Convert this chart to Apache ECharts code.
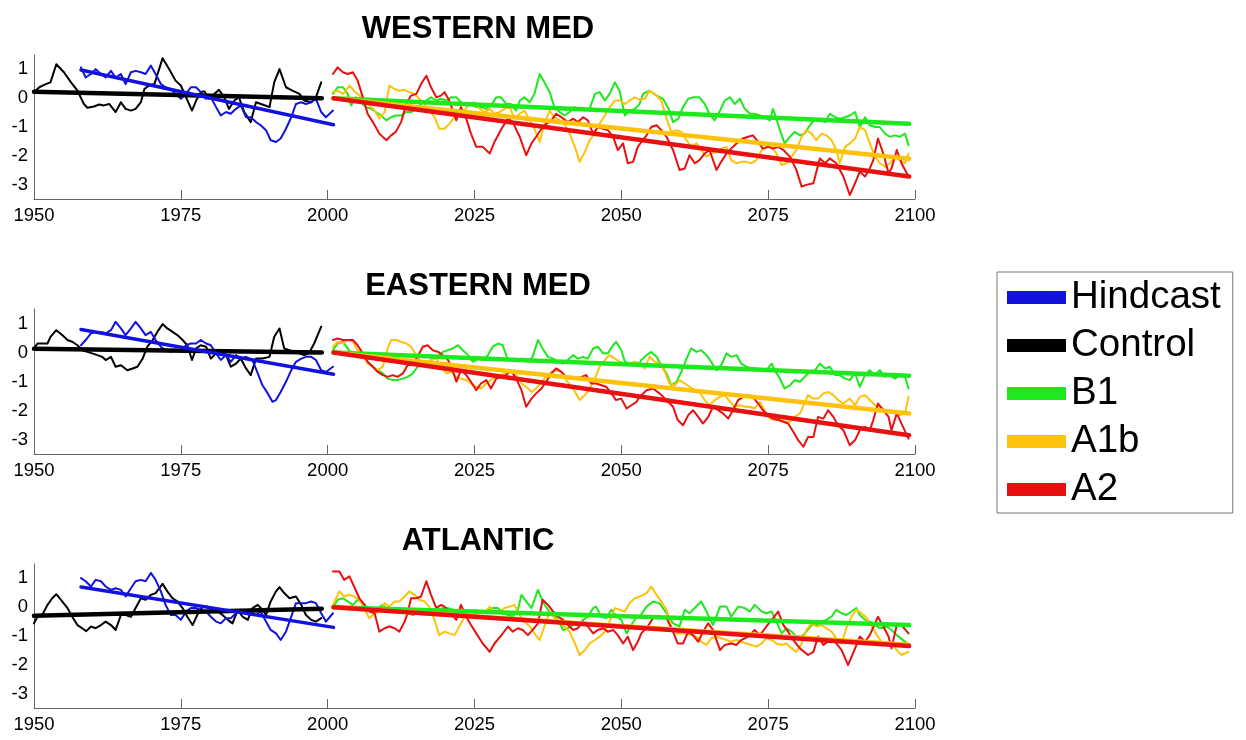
<!DOCTYPE html>
<html>
<head>
<meta charset="utf-8">
<script src="https://cdn.jsdelivr.net/npm/echarts@6/dist/echarts.min.js"></script>
<style>
html,body{margin:0;padding:0;background:#fff;}
#chart{width:1246px;height:740px;}
</style>
</head>
<body>
<div id="chart"></div>
<script>
// ---------- DATA ----------
const panelTitles = ['WESTERN MED', 'EASTERN MED', 'ATLANTIC'];
const seriesNames = ['Hindcast', 'Control', 'B1', 'A1b', 'A2'];
const xTicks = [1950, 1975, 2000, 2025, 2050, 2075, 2100];
const yTickLabels = [1, 0, -1, -2, -3];

// WESTERN MED
const wmControl = [[1950,0.21],[1950.9,0.38],[1952,0.49],[1952.8,0.55],[1953.8,1.18],[1955.1,0.9],[1956.3,0.55],[1957.4,0.26],[1958.5,-0.2],[1959.1,-0.33],[1960.2,-0.29],[1961.1,-0.22],[1961.9,-0.25],[1962.8,-0.2],[1963.9,-0.48],[1964.8,-0.14],[1965.6,-0.37],[1966.5,-0.43],[1967.3,-0.37],[1968.2,-0.14],[1968.8,0.32],[1969.6,0.44],[1970.5,0.49],[1971.9,1.39],[1973,1.01],[1974.1,0.61],[1975,0.44],[1975.9,0.03],[1976.9,-0.43],[1977.6,-0.08],[1978.4,0.21],[1979,0.24],[1979.8,-0.02],[1980.7,0.15],[1981.5,0.29],[1982.4,0.03],[1983.2,-0.37],[1984.1,-0.08],[1984.9,0.03],[1985.8,-0.48],[1986.9,-0.83],[1987.8,-0.14],[1988.9,-0.22],[1990.1,-0.31],[1990.9,0.55],[1991.8,1.01],[1992.9,0.38],[1994,0.26],[1995.2,0.15],[1996,-0.08],[1997.2,-0.14],[1998,0.03],[1998.9,0.55]];
const wmHindcast = [[1958,1.07],[1958.8,0.72],[1959.7,0.84],[1960.5,1.01],[1961.4,0.84],[1962.2,0.72],[1963.1,0.95],[1963.9,0.72],[1964.8,0.84],[1965.6,0.49],[1966.5,0.9],[1967.3,0.95],[1968.2,0.9],[1969,0.84],[1969.9,1.13],[1970.7,0.84],[1971.6,0.49],[1972.4,0.38],[1973.3,0.32],[1974.1,0.15],[1975,-0.02],[1975.9,0.15],[1976.7,0.38],[1977.6,0.38],[1978.4,0.21],[1979.3,-0.02],[1980.1,0.03],[1981,-0.31],[1981.8,-0.6],[1982.7,-0.48],[1983.5,-0.54],[1984.4,-0.37],[1985.2,-0.25],[1986.1,-0.66],[1986.9,-0.66],[1987.8,-0.83],[1988.6,-0.94],[1989.5,-1.11],[1990.3,-1.46],[1991.2,-1.52],[1992,-1.4],[1992.9,-1.06],[1993.8,-0.66],[1994.6,-0.2],[1995.5,-0.14],[1996.3,-0.2],[1997.2,-0.14],[1998,-0.02],[1998.9,-0.48],[1999.7,-0.66],[2000.9,-0.43]];
const wmB1 = [[2000.9,0.15],[2001.7,0.38],[2002.6,0.38],[2003.4,0.15],[2004,-0.25],[2004.8,0.03],[2005.7,-0.14],[2006.5,-0.31],[2007.4,-0.37],[2008.2,-0.48],[2009.1,-0.6],[2010,-0.77],[2010.8,-0.66],[2011.6,-0.6],[2012.5,-0.6],[2013.4,-0.48],[2014.2,-0.48],[2015.1,-0.37],[2015.9,-0.2],[2016.8,-0.08],[2017.6,0.03],[2018.5,-0.08],[2019.3,-0.02],[2020.2,-0.08],[2021,0.03],[2021.9,0.03],[2022.7,-0.14],[2023.6,-0.25],[2024.4,-0.2],[2025.3,-0.31],[2026.1,-0.31],[2027,-0.37],[2027.8,-0.25],[2028.7,0.03],[2029.5,0.03],[2030.4,-0.2],[2031.2,-0.2],[2032.1,-0.43],[2032.7,-0.08],[2033.5,0.03],[2034.4,-0.14],[2035.2,0.15],[2036.1,0.84],[2036.9,0.55],[2037.8,0.21],[2038.6,-0.31],[2039.5,-0.48],[2040.3,-0.6],[2041.2,-0.48],[2042,-0.31],[2042.9,-0.37],[2043.7,-0.43],[2044.6,-0.37],[2045.5,0.15],[2046.3,0.21],[2047.2,-0.08],[2048,0.15],[2048.9,0.55],[2049.7,0.26],[2050.6,-0.6],[2051.4,-0.43],[2052.3,-0.37],[2053.1,-0.2],[2053.7,0.15],[2054.8,0.26],[2056,0.09],[2057.1,-0.02],[2058.2,-0.43],[2058.8,-0.83],[2059.7,-0.71],[2060.5,-0.31],[2061.4,-0.02],[2062.2,0.03],[2063.3,0.03],[2064.2,-0.2],[2065,-0.54],[2065.9,-0.77],[2066.8,-0.43],[2067.6,-0.08],[2068.5,0.03],[2069.3,-0.2],[2070.2,-0.02],[2071,-0.37],[2071.9,-0.54],[2072.7,-0.54],[2073.6,-0.6],[2074.4,-0.66],[2075.3,-0.77],[2075.8,-0.37],[2076.4,-0.71],[2077,-1.11],[2077.8,-1.57],[2078.7,-1.34],[2079.5,-1.17],[2080.4,-1.29],[2081.2,-1.23],[2082.1,-0.94],[2083,-0.71],[2083.8,-0.77],[2084.7,-0.83],[2085.5,-0.54],[2086.4,-0.66],[2087.2,-0.71],[2088.1,-0.66],[2088.9,-0.6],[2089.8,-0.48],[2090.6,-1.0],[2091.5,-0.66],[2092.3,-0.94],[2093.2,-1.0],[2094,-1.0],[2094.9,-1.23],[2095.7,-1.34],[2096.6,-1.29],[2097.4,-1.34],[2098.3,-1.23],[2098.9,-1.63]];
const wmA1b = [[2000.9,0.21],[2001.7,0.26],[2002.6,0.15],[2003.7,0.44],[2004.5,0.26],[2005.4,0.09],[2006.3,-0.08],[2007.1,-0.25],[2008,-0.43],[2008.8,-0.71],[2009.7,-0.48],[2010.5,0.44],[2011.4,0.32],[2012.2,0.26],[2013.1,0.29],[2013.9,0.21],[2014.8,0.15],[2015.6,-0.02],[2016.5,-0.2],[2017.3,-0.43],[2018.2,-0.66],[2019,-1.06],[2019.9,-1.06],[2020.7,-0.89],[2021.6,-0.66],[2022.4,-0.48],[2023.3,-0.43],[2024.1,-0.2],[2025,-0.14],[2025.9,-0.37],[2026.7,-0.48],[2027.6,-0.37],[2028.4,-0.54],[2029.3,-0.48],[2030.1,-0.37],[2031,-0.31],[2031.8,-0.71],[2032.7,-0.54],[2033.5,-0.43],[2034.4,-0.77],[2035.2,-1.06],[2036.1,-1.52],[2036.9,-0.89],[2037.8,-0.43],[2038.6,-0.66],[2039.5,-0.77],[2040.3,-0.89],[2041.2,-1.23],[2042.1,-1.69],[2042.9,-2.21],[2043.8,-1.86],[2044.6,-1.46],[2045.5,-1.23],[2046.3,-0.89],[2047.2,-0.6],[2048,-0.31],[2048.9,-0.08],[2049.7,-0.08],[2050.6,-0.2],[2051.4,-0.08],[2052.3,0.03],[2053.1,-0.05],[2054,-0.02],[2054.8,0.26],[2056,0.09],[2056.8,-0.08],[2057.7,-0.71],[2058.5,-1.17],[2059.4,-1.11],[2060.2,-1.17],[2061.1,-1.46],[2061.9,-1.69],[2062.8,-1.57],[2063.6,-1.8],[2064.5,-2.03],[2065.3,-1.92],[2066.2,-1.86],[2067,-1.75],[2067.9,-1.69],[2068.7,-2.15],[2069.6,-2.26],[2070.4,-2.21],[2071.3,-2.21],[2072.1,-2.26],[2073,-2.15],[2073.9,-1.8],[2074.7,-1.69],[2075.6,-1.69],[2076.4,-1.92],[2077.3,-2.32],[2078.1,-2.26],[2079,-2.03],[2079.8,-1.8],[2080.7,-1.34],[2081.5,-1.11],[2082.4,-1.23],[2083.2,-1.46],[2084.1,-1.23],[2084.9,-1.29],[2085.8,-1.46],[2086.6,-1.8],[2087.2,-2.26],[2088.1,-1.69],[2088.9,-1.57],[2089.8,-1.4],[2090.6,-1.0],[2091.5,-1.11],[2092.3,-1.57],[2093.2,-2.03],[2094,-2.26],[2094.9,-2.38],[2095.7,-2.26],[2096.6,-2.03],[2097.4,-2.15],[2098.3,-2.26],[2098.9,-1.92]];
const wmA2 = [[2000.9,0.84],[2001.7,1.07],[2002.6,0.9],[2003.4,0.84],[2004.3,0.9],[2005.1,0.61],[2006,0.03],[2006.8,-0.54],[2007.7,-0.83],[2008.8,-1.23],[2010,-1.46],[2010.8,-1.29],[2011.6,-1.17],[2012.5,-0.83],[2013.4,-0.2],[2014.2,0.09],[2015.1,0.15],[2015.9,0.49],[2016.8,0.78],[2017.6,0.38],[2018.5,0.03],[2019.3,0.09],[2019.9,0.21],[2020.7,-0.08],[2021.9,-0.77],[2022.7,-0.31],[2023.6,-0.71],[2024.4,-1.23],[2025.3,-1.69],[2026.4,-1.69],[2027.6,-1.92],[2028.4,-1.52],[2029.6,-1.06],[2030.7,-0.71],[2031.5,-0.83],[2032.7,-1.34],[2033.8,-1.98],[2034.7,-1.57],[2035.5,-1.34],[2036.4,-1.06],[2037.2,-0.89],[2038.1,-0.77],[2038.9,-0.54],[2039.8,-0.66],[2040.9,-0.83],[2041.8,-0.71],[2042.6,-0.83],[2043.5,-0.66],[2044.3,-0.77],[2045.2,-1.23],[2046,-1.0],[2046.9,-1.06],[2047.7,-1.11],[2048.6,-1.34],[2049.4,-1.8],[2050.3,-1.57],[2051.1,-2.26],[2052,-2.21],[2052.8,-1.69],[2053.4,-1.52],[2054.3,-1.29],[2055.1,-1.0],[2056,-0.94],[2056.8,-1.11],[2057.7,-1.34],[2058.8,-1.8],[2059.9,-2.49],[2060.8,-2.44],[2061.6,-1.98],[2062.5,-2.26],[2063.3,-2.15],[2064.2,-1.92],[2065,-1.8],[2066.2,-2.49],[2067,-2.21],[2067.9,-1.92],[2068.7,-1.75],[2069.6,-1.57],[2070.7,-1.4],[2071.6,-1.34],[2072.4,-1.29],[2073.3,-1.52],[2074.1,-1.75],[2075,-1.69],[2075.8,-1.75],[2076.7,-1.69],[2077.6,-1.8],[2078.7,-2.03],[2079.8,-2.49],[2080.7,-3.07],[2081.5,-3.01],[2082.7,-2.95],[2083.8,-2.09],[2084.7,-2.26],[2085.5,-2.09],[2086.6,-2.26],[2087.8,-2.72],[2088.9,-3.36],[2089.8,-2.95],[2090.6,-2.55],[2091.5,-2.72],[2092.3,-2.44],[2092.9,-2.15],[2093.7,-1.4],[2094.6,-1.92],[2095.5,-2.61],[2096,-2.44],[2096.9,-1.8],[2097.7,-2.26],[2098.9,-2.72]];
const wmTrendControl = [[1950,0.22],[1999,0.0]];
const wmTrendHindcast = [[1958,0.98],[2001,-0.92]];
const wmTrendB1 = [[2001,0.0],[2099,-0.89]];
const wmTrendA1b = [[2001,0.0],[2099,-2.1]];
const wmTrendA2 = [[2001,0.0],[2099,-2.72]];

// EASTERN MED
const emControl = [[1950,0.14],[1950.6,0.31],[1951.4,0.31],[1952.3,0.31],[1952.8,0.54],[1953.8,0.77],[1954.8,0.6],[1955.7,0.43],[1956.5,0.37],[1957.4,0.25],[1958.2,0.08],[1959.1,0.02],[1959.9,-0.03],[1960.8,-0.09],[1961.6,-0.15],[1962.2,-0.26],[1963.1,-0.15],[1963.9,-0.49],[1964.8,-0.44],[1965.9,-0.61],[1966.8,-0.55],[1967.6,-0.49],[1968.5,-0.21],[1969.3,0.2],[1970.2,0.43],[1971,0.71],[1971.9,0.98],[1972.7,0.83],[1973.6,0.71],[1974.4,0.6],[1975.3,0.43],[1976.1,0.25],[1976.9,-0.26],[1977.6,0.14],[1978.4,0.25],[1979.3,0.2],[1980.1,-0.21],[1981,-0.03],[1981.8,0.02],[1982.7,-0.09],[1983.5,-0.49],[1984.4,-0.38],[1985.2,-0.21],[1986.1,-0.55],[1986.9,-0.78],[1987.8,-0.21],[1988.9,-0.21],[1990.1,-0.15],[1990.9,0.54],[1991.8,0.83],[1992.6,0.14],[1993.5,0.08],[1994.3,0.02],[1995.1,-0.03],[1996,-0.09],[1996.8,-0.03],[1997.7,0.31],[1998.9,0.89]];
const emHindcast = [[1958,0.25],[1958.8,0.43],[1959.7,0.66],[1960.5,0.71],[1961.4,0.71],[1962.2,0.66],[1963.1,0.77],[1963.9,1.06],[1964.8,0.83],[1965.6,0.6],[1966.5,0.83],[1967.3,1.06],[1968.2,0.83],[1969,0.6],[1969.9,0.71],[1970.7,0.43],[1971.6,0.2],[1972.4,0.08],[1973.3,0.02],[1974.1,0.08],[1975,0.08],[1975.9,0.25],[1976.7,0.31],[1977.6,0.31],[1978.4,0.43],[1979.3,0.31],[1980.1,0.25],[1981,-0.03],[1981.8,-0.26],[1982.7,-0.09],[1983.5,-0.32],[1984.4,-0.09],[1985.2,-0.21],[1986.1,-0.15],[1987.2,-0.26],[1988.1,-0.72],[1988.9,-1.13],[1989.8,-1.41],[1990.6,-1.7],[1991.2,-1.64],[1992,-1.36],[1992.9,-1.01],[1993.8,-0.61],[1994.6,-0.32],[1995.5,-0.21],[1996.3,-0.15],[1997.2,-0.15],[1998,-0.26],[1998.9,-0.61],[1999.7,-0.67],[2000.9,-0.49]];
const emB1 = [[2000.9,0.08],[2001.7,0.31],[2002.6,0.37],[2003.4,0.14],[2004.3,-0.09],[2005.1,-0.09],[2006,-0.15],[2006.8,-0.32],[2007.7,-0.49],[2008.5,-0.61],[2009.4,-0.72],[2010.2,-0.9],[2011.1,-0.95],[2011.9,-0.95],[2012.8,-0.9],[2013.6,-0.84],[2014.5,-0.72],[2015.3,-0.49],[2016.2,-0.44],[2017,-0.32],[2017.9,-0.21],[2018.8,-0.15],[2019.6,0.02],[2020.5,0.08],[2021.3,0.14],[2022.2,0.25],[2023,0.08],[2023.9,-0.09],[2024.7,-0.32],[2025.6,-0.21],[2026.4,-0.26],[2027.3,-0.09],[2028.1,0.2],[2029,0.31],[2029.8,0.25],[2030.7,-0.26],[2031.5,-0.21],[2032.4,-0.26],[2033.2,-0.21],[2034.1,-0.32],[2034.9,-0.15],[2035.8,0.43],[2036.6,0.14],[2037.5,-0.15],[2038.4,-0.21],[2039.2,-0.32],[2040.1,-0.38],[2040.9,-0.26],[2041.8,-0.09],[2042.6,-0.21],[2043.5,-0.15],[2044.3,-0.21],[2045.2,0.14],[2046,0.2],[2046.9,-0.03],[2047.7,-0.03],[2048.6,0.25],[2049.1,0.37],[2050,0.08],[2050.6,-0.32],[2051.4,-0.38],[2052.3,-0.44],[2053.1,-0.38],[2053.4,-0.26],[2054.3,-0.09],[2055.1,0.02],[2056,-0.15],[2056.8,-0.44],[2057.7,-0.72],[2058.5,-1.13],[2059.4,-1.01],[2060.2,-0.67],[2061.1,-0.21],[2061.9,0.14],[2062.8,0.02],[2063.6,0.08],[2064.5,-0.09],[2065.3,-0.32],[2066.2,-0.61],[2067,-0.44],[2067.9,-0.03],[2068.7,-0.15],[2069.6,-0.09],[2070.4,-0.38],[2071.3,-0.49],[2072.1,-0.55],[2073,-0.55],[2073.9,-0.61],[2074.7,-0.61],[2075.6,-0.38],[2076.1,-0.61],[2077,-0.9],[2077.8,-1.24],[2078.7,-1.13],[2079.5,-0.95],[2080.4,-1.01],[2081.2,-0.84],[2082.1,-0.67],[2083,-0.61],[2083.8,-0.38],[2084.7,-0.55],[2085.5,-0.49],[2086.4,-0.78],[2087.2,-0.78],[2088.1,-0.9],[2088.9,-0.95],[2089.8,-0.72],[2090.6,-1.18],[2091.5,-0.78],[2092.3,-0.61],[2093.2,-0.78],[2094,-0.61],[2094.9,-0.84],[2095.7,-0.78],[2096.6,-0.9],[2097.4,-0.78],[2098.3,-0.84],[2098.9,-1.24]];
const emA1b = [[2000.9,0.2],[2001.7,0.37],[2002.6,0.31],[2003.4,0.43],[2004.3,0.37],[2005.1,0.08],[2006,-0.03],[2006.8,-0.38],[2007.7,-0.49],[2008.5,-0.61],[2009.4,-0.49],[2010.2,0.14],[2010.8,0.43],[2011.6,0.43],[2012.5,0.37],[2013.4,0.31],[2014.2,0.2],[2015.1,-0.09],[2015.9,-0.32],[2016.8,-0.38],[2017.6,-0.26],[2018.5,-0.21],[2019.3,-0.49],[2020.2,-0.72],[2021,-0.67],[2021.9,-0.84],[2022.7,-0.9],[2023.6,-0.95],[2024.4,-1.07],[2025.3,-1.18],[2026.1,-1.24],[2027,-1.07],[2027.8,-0.95],[2028.7,-0.84],[2029.5,-0.78],[2030.4,-0.72],[2031.2,-0.67],[2032.1,-0.78],[2033,-1.07],[2033.8,-1.18],[2034.7,-1.36],[2035.5,-1.24],[2036.4,-1.01],[2037.2,-0.84],[2038.1,-0.67],[2038.9,-0.61],[2039.8,-0.67],[2040.6,-0.95],[2041.8,-1.24],[2042.9,-1.64],[2043.8,-1.47],[2044.6,-1.24],[2045.5,-0.9],[2046.3,-0.49],[2047.2,-0.26],[2048,-0.09],[2048.9,-0.21],[2049.7,-0.32],[2050.6,-0.38],[2051.4,-0.38],[2052.3,-0.32],[2053.1,-0.38],[2054,-0.55],[2054.8,-0.15],[2055.7,-0.32],[2056.5,-0.38],[2057.4,-0.67],[2058.2,-1.07],[2059.1,-1.13],[2059.9,-0.95],[2060.8,-1.07],[2061.6,-1.18],[2062.5,-1.3],[2063.3,-1.36],[2064.2,-1.64],[2065,-1.82],[2065.9,-1.64],[2066.8,-1.53],[2067.6,-1.47],[2068.5,-1.7],[2069.3,-1.87],[2070.2,-1.82],[2071,-1.87],[2071.9,-1.87],[2072.7,-1.93],[2073.6,-1.7],[2074.4,-1.99],[2075.3,-2.28],[2076.1,-2.33],[2077,-2.28],[2077.8,-2.39],[2078.7,-2.39],[2079.5,-2.22],[2080.4,-2.1],[2081.2,-1.76],[2081.8,-1.47],[2082.7,-1.59],[2083.5,-1.59],[2084.4,-1.41],[2085.2,-1.36],[2086.1,-1.47],[2086.9,-1.64],[2087.8,-1.76],[2088.9,-1.59],[2089.8,-1.82],[2090.6,-1.53],[2091.5,-1.47],[2092.3,-1.64],[2093.2,-1.82],[2094,-1.87],[2094.9,-1.99],[2095.7,-2.05],[2096.6,-2.1],[2097.4,-2.16],[2098.3,-2.1],[2098.9,-1.53]];
const emA2 = [[2000.9,0.43],[2001.7,0.48],[2002.6,0.43],[2003.4,0.43],[2004.3,0.43],[2005.1,0.25],[2006,-0.03],[2006.8,-0.32],[2007.7,-0.49],[2008.5,-0.67],[2009.4,-0.78],[2010.2,-0.84],[2011.1,-0.78],[2011.9,-0.84],[2012.8,-0.72],[2013.6,-0.44],[2014.5,-0.38],[2015.3,-0.15],[2016.2,0.2],[2017,0.25],[2017.9,0.08],[2018.8,0.02],[2019.6,-0.09],[2020.5,-0.26],[2021.3,-0.61],[2021.9,-1.01],[2022.7,-0.61],[2023.6,-0.78],[2024.4,-1.01],[2025.3,-1.3],[2026.1,-1.07],[2027,-0.95],[2027.8,-1.24],[2028.7,-0.9],[2029.5,-0.84],[2030.4,-0.78],[2031.2,-0.61],[2032.1,-0.9],[2033,-1.3],[2033.8,-1.87],[2034.7,-1.59],[2035.5,-1.41],[2036.4,-1.24],[2037.2,-1.01],[2038.1,-0.72],[2038.9,-0.55],[2039.8,-0.67],[2040.6,-0.84],[2041.5,-0.9],[2042.3,-0.9],[2043.2,-0.84],[2044,-0.78],[2044.9,-1.07],[2045.7,-1.07],[2046.6,-1.13],[2047.4,-1.18],[2048.3,-1.41],[2049.1,-1.64],[2050,-1.59],[2050.9,-1.93],[2051.7,-1.82],[2052.6,-1.7],[2053.1,-1.53],[2054.3,-1.3],[2055.4,-1.24],[2056.5,-1.41],[2057.7,-1.64],[2058.8,-1.87],[2059.6,-2.33],[2060.5,-2.51],[2061.4,-2.16],[2062.2,-1.99],[2063.1,-2.22],[2063.9,-2.45],[2064.8,-2.22],[2065.6,-1.87],[2066.5,-1.99],[2067.3,-2.1],[2068.2,-2.28],[2069,-1.99],[2069.9,-1.64],[2070.7,-1.53],[2071.6,-1.47],[2072.4,-1.53],[2073.3,-1.76],[2074.1,-1.99],[2075,-2.16],[2075.8,-2.28],[2076.7,-2.33],[2077.6,-2.39],[2078.4,-2.45],[2079.3,-2.74],[2080.1,-3.02],[2081,-3.25],[2081.8,-2.91],[2082.7,-2.91],[2083.5,-2.22],[2084.4,-2.28],[2085.2,-1.99],[2086.1,-2.22],[2086.9,-2.51],[2087.8,-2.68],[2088.9,-3.2],[2089.8,-3.02],[2090.6,-2.68],[2091.5,-2.56],[2092.3,-2.68],[2092.9,-2.33],[2093.7,-1.76],[2094.6,-1.99],[2095.5,-2.22],[2096,-2.68],[2096.9,-2.1],[2097.7,-2.45],[2098.9,-2.97]];
const emTrendControl = [[1950,0.13],[1999,0.0]];
const emTrendHindcast = [[1958,0.79],[2001,-0.75]];
const emTrendB1 = [[2001,0.0],[2099,-0.8]];
const emTrendA1b = [[2001,0.0],[2099,-2.1]];
const emTrendA2 = [[2001,0.0],[2099,-2.85]];

// ATLANTIC
const atControl = [[1950,-0.56],[1950.6,-0.33],[1951.4,-0.27],[1952.3,0.08],[1953.1,0.31],[1953.8,0.45],[1954.8,0.2],[1955.7,-0.03],[1956.5,-0.33],[1957.4,-0.62],[1958.2,-0.73],[1958.9,-0.83],[1959.7,-0.67],[1960.5,-0.73],[1961.4,-0.62],[1962.2,-0.5],[1963.1,-0.62],[1963.9,-0.79],[1964.8,-0.27],[1965.6,-0.27],[1966.5,-0.33],[1967.3,-0.03],[1968.2,0.31],[1969,0.26],[1969.9,0.43],[1970.7,0.49],[1971.9,0.81],[1972.7,0.55],[1973.6,0.31],[1974.4,0.2],[1975.3,-0.03],[1976.1,-0.33],[1977,-0.62],[1977.8,-0.27],[1978.7,0.02],[1979.5,0.02],[1980.4,-0.09],[1981.3,-0.15],[1982.1,-0.27],[1983,-0.44],[1983.8,-0.56],[1984.7,-0.09],[1985.5,-0.33],[1986.4,-0.44],[1987.2,-0.03],[1988.1,0.08],[1988.9,-0.09],[1989.5,-0.27],[1990.3,0.2],[1991.2,0.55],[1991.8,0.7],[1992.6,0.49],[1993.5,0.31],[1994.6,0.37],[1995.5,0.08],[1996.3,-0.27],[1997.2,-0.44],[1998,-0.5],[1998.9,-0.38]];
const atHindcast = [[1958,1.01],[1958.8,0.9],[1959.7,0.72],[1960.5,0.95],[1961.4,0.9],[1962.2,0.72],[1963.1,0.6],[1963.9,0.66],[1964.8,0.6],[1965.6,0.37],[1966.5,0.66],[1967.3,0.9],[1968.2,0.95],[1969,0.9],[1969.9,1.19],[1970.7,0.95],[1971.6,0.55],[1972.4,0.08],[1973.3,-0.27],[1974.1,-0.27],[1975,-0.44],[1975.9,-0.15],[1976.7,-0.03],[1977.6,-0.03],[1978.4,-0.09],[1979.3,-0.15],[1980.1,-0.33],[1981,-0.5],[1981.8,-0.56],[1982.7,-0.38],[1983.5,-0.38],[1984.4,-0.21],[1985.2,-0.09],[1986.1,-0.21],[1986.9,-0.15],[1987.8,-0.27],[1988.6,-0.15],[1989.5,-0.5],[1990.3,-0.79],[1991.2,-0.91],[1992,-1.14],[1992.9,-0.85],[1993.8,-0.33],[1994.6,0.14],[1995.5,0.14],[1996.3,0.14],[1997.2,0.2],[1998,0.14],[1998.9,-0.21],[1999.7,-0.5],[2000.9,-0.21]];
const atB1 = [[2000.9,-0.03],[2001.7,0.26],[2002.6,0.31],[2003.4,0.2],[2004.3,0.08],[2005.1,0.26],[2006,0.14],[2006.8,-0.15],[2007.7,-0.09],[2008.5,-0.03],[2009.4,0.08],[2010.2,-0.09],[2011.1,-0.09],[2011.9,-0.09],[2012.8,-0.15],[2013.6,-0.21],[2014.5,-0.27],[2015.3,-0.21],[2016.2,-0.15],[2017,-0.09],[2017.9,-0.15],[2018.8,-0.09],[2019.6,-0.03],[2020.5,-0.03],[2021.3,-0.09],[2022.2,-0.15],[2023,-0.21],[2023.9,-0.27],[2024.7,-0.38],[2025.6,-0.15],[2026.4,-0.21],[2027.3,-0.09],[2028.1,-0.03],[2029,-0.03],[2029.8,-0.21],[2030.7,-0.27],[2031.5,-0.33],[2032.4,-0.09],[2033,0.43],[2033.8,0.2],[2034.7,-0.03],[2035.8,0.6],[2036.6,0.2],[2037.5,-0.09],[2038.4,-0.27],[2039.2,-0.44],[2040.1,-0.79],[2040.9,-0.73],[2041.8,-0.62],[2042.6,-0.62],[2043.5,-0.44],[2044.3,-0.33],[2045.2,-0.03],[2045.7,0.02],[2046.6,-0.33],[2047.4,-0.38],[2048.3,-0.09],[2049.2,-0.33],[2050,-0.44],[2050.9,-0.91],[2051.7,-0.62],[2052.6,-0.33],[2053.1,-0.33],[2054.3,0.02],[2055.4,0.2],[2056.5,0.14],[2057.7,-0.21],[2058.8,-0.56],[2059.9,-0.67],[2060.8,-0.09],[2061.6,-0.21],[2062.5,-0.03],[2063.6,0.2],[2064.5,-0.15],[2065.6,-0.62],[2066.8,0.02],[2067.9,0.02],[2068.7,-0.33],[2069.9,0.02],[2071,-0.03],[2071.9,-0.15],[2072.7,0.08],[2073.9,-0.15],[2074.7,-0.21],[2075.6,-0.15],[2076.4,-0.5],[2077.3,-0.91],[2078.1,-0.73],[2079,-0.85],[2079.8,-1.02],[2080.7,-1.02],[2081.5,-0.85],[2082.4,-0.62],[2083.2,-0.62],[2084.1,-0.5],[2084.9,-0.44],[2085.8,-0.33],[2086.6,-0.09],[2087.5,-0.21],[2088.3,-0.27],[2089.2,-0.15],[2090,-0.03],[2090.6,-0.27],[2091.5,-0.44],[2092.3,-0.5],[2093.2,-0.62],[2094,-0.73],[2095.2,-0.67],[2096,-0.79],[2096.9,-0.97],[2097.7,-1.1],[2098.9,-1.3]];
const atA1b = [[2000.9,0.08],[2002,0.55],[2002.8,0.37],[2003.7,0.43],[2004.5,0.37],[2005.4,0.26],[2006.3,-0.09],[2007.1,-0.38],[2008,-0.21],[2008.8,-0.15],[2009.7,0.14],[2010.5,0.02],[2011.4,0.2],[2012.2,0.2],[2013.1,0.37],[2013.9,0.55],[2014.8,0.43],[2015.6,0.26],[2016.5,0.2],[2017.3,0.02],[2018.2,-0.44],[2019,-0.97],[2019.9,-0.85],[2020.7,-0.91],[2021.6,-0.97],[2022.4,-0.67],[2023.3,-0.33],[2024.1,-0.15],[2025,-0.09],[2025.9,-0.15],[2026.7,-0.21],[2027.6,0.02],[2028.4,-0.21],[2029.3,-0.15],[2030.1,-0.03],[2031,0.02],[2031.8,0.08],[2032.7,-0.27],[2033.5,-0.5],[2034.4,-0.67],[2035.2,-0.91],[2036.1,-1.14],[2036.9,-0.67],[2037.8,-0.15],[2038.6,-0.38],[2039.5,-0.5],[2040.3,-0.67],[2041.2,-0.85],[2042.1,-1.26],[2042.9,-1.66],[2043.8,-1.49],[2044.6,-1.26],[2045.5,-1.14],[2046.3,-1.02],[2047.2,-0.85],[2048,-0.5],[2048.9,-0.03],[2049.7,-0.09],[2050.6,-0.15],[2051.4,0.14],[2052.3,0.31],[2053.1,0.37],[2054.3,0.49],[2055.1,0.72],[2056,0.43],[2056.8,0.2],[2057.7,-0.09],[2058.5,-0.67],[2059.4,-0.91],[2060.2,-0.91],[2061.1,-0.91],[2061.9,-0.97],[2062.8,-1.02],[2063.6,-1.2],[2064.5,-1.31],[2065.3,-1.08],[2066.2,-1.02],[2067,-1.08],[2067.9,-1.14],[2068.7,-1.2],[2069.6,-1.14],[2070.4,-1.2],[2071.3,-1.26],[2072.1,-1.31],[2073,-1.37],[2073.9,-1.26],[2074.7,-1.08],[2075.6,-1.14],[2076.4,-1.26],[2077.3,-1.31],[2078.1,-1.26],[2079,-1.43],[2079.8,-1.55],[2080.7,-1.26],[2081.5,-0.79],[2082.4,-0.56],[2083.2,-0.67],[2084.1,-0.62],[2084.9,-0.73],[2085.8,-0.85],[2086.6,-1.08],[2087.5,-1.26],[2088.3,-0.73],[2089.2,-0.33],[2090,-0.09],[2090.9,-0.21],[2091.8,-0.38],[2092.6,-0.67],[2093.5,-0.97],[2094.3,-1.2],[2095.2,-1.26],[2096,-1.2],[2096.9,-1.49],[2097.7,-1.66],[2098.9,-1.55]];
const atA2 = [[2000.9,1.24],[2002,1.24],[2002.8,0.95],[2003.7,1.07],[2004.5,0.72],[2005.4,0.31],[2006.3,0.08],[2007.1,-0.15],[2008,-0.21],[2008.8,-0.85],[2009.7,-0.73],[2010.5,-0.67],[2011.4,-0.73],[2012.2,-0.85],[2013.1,-0.5],[2013.6,-0.21],[2014.2,0.31],[2015.1,0.31],[2015.9,0.37],[2016.8,0.9],[2017.6,0.43],[2018.5,-0.03],[2019.3,0.08],[2019.9,0.02],[2020.7,-0.15],[2021.9,-0.44],[2022.7,0.08],[2023.6,-0.33],[2024.4,-0.62],[2025.3,-0.91],[2026.4,-1.26],[2027.6,-1.55],[2028.4,-1.26],[2029.6,-0.97],[2030.7,-0.67],[2031.5,-0.85],[2032.4,-0.73],[2033.2,-0.79],[2034.1,-0.97],[2034.9,-0.79],[2035.8,-0.56],[2036.6,0.26],[2037.5,0.08],[2038.4,-0.15],[2039.2,-0.33],[2040.1,-0.44],[2040.9,-0.62],[2041.8,-0.79],[2042.6,-0.73],[2043.5,-0.5],[2044.3,-0.67],[2045.2,-0.91],[2046,-0.79],[2046.9,-0.73],[2047.7,-0.85],[2048.6,-0.79],[2049.4,-0.97],[2050.3,-1.26],[2051.1,-1.02],[2052,-1.49],[2052.8,-1.2],[2053.4,-0.91],[2054.5,-0.67],[2055.4,-0.38],[2056.5,-0.33],[2057.7,-0.38],[2058.8,-0.85],[2059.6,-1.26],[2060.5,-1.26],[2061.4,-0.85],[2062.2,-0.97],[2063.1,-1.2],[2063.9,-0.85],[2064.8,-0.56],[2065.6,-0.79],[2066.8,-1.49],[2067.6,-1.31],[2068.7,-1.26],[2069.6,-1.31],[2070.4,-1.14],[2071.6,-1.02],[2072.7,-0.79],[2073.6,-0.97],[2074.7,-0.67],[2075.6,-0.44],[2076.7,-0.15],[2077.6,-0.62],[2078.4,-0.85],[2079.3,-1.14],[2080.4,-1.43],[2081.8,-1.66],[2082.7,-1.55],[2083.5,-1.02],[2084.4,-1.31],[2085.2,-1.2],[2086.4,-1.2],[2087.5,-1.49],[2088.6,-2.01],[2089.8,-1.43],[2090.6,-1.02],[2091.5,-1.2],[2092.3,-0.97],[2093.2,-0.56],[2093.7,-0.33],[2094.6,-0.67],[2095.5,-1.02],[2096,-1.43],[2096.9,-0.62],[2097.7,-0.62],[2098.9,-0.91]];
const atTrendControl = [[1950,-0.3],[1999,-0.05]];
const atTrendHindcast = [[1958,0.7],[2001,-0.7]];
const atTrendB1 = [[2001,0.0],[2099,-0.62]];
const atTrendA1b = [[2001,0.0],[2099,-1.3]];
const atTrendA2 = [[2001,0.0],[2099,-1.35]];

// ---------- CHART ----------
const colors = {Hindcast:'#1212e0', Control:'#000000', B1:'#1ee81e', A1b:'#ffc20a', A2:'#e81010'};
const panels = [
  {c:wmControl,h:wmHindcast,b1:wmB1,a1b:wmA1b,a2:wmA2,tc:wmTrendControl,th:wmTrendHindcast,tb1:wmTrendB1,ta1b:wmTrendA1b,ta2:wmTrendA2},
  {c:emControl,h:emHindcast,b1:emB1,a1b:emA1b,a2:emA2,tc:emTrendControl,th:emTrendHindcast,tb1:emTrendB1,ta1b:emTrendA1b,ta2:emTrendA2},
  {c:atControl,h:atHindcast,b1:atB1,a1b:atA1b,a2:atA2,tc:atTrendControl,th:atTrendHindcast,tb1:atTrendB1,ta1b:atTrendA1b,ta2:atTrendA2}
];
const gridTops = [55, 309, 564];
const gridHeights = [144, 145, 144];
const titleTops = [9, 266, 521];
const font = 'Arial, "Liberation Sans", sans-serif';

const grids = [], xAxes = [], yAxes = [], titles = [], series = [];
panels.forEach((p, i) => {
  grids.push({left: 34, width: 881, top: gridTops[i], height: gridHeights[i]});
  titles.push({text: panelTitles[i], left: 473, top: titleTops[i], textAlign: 'center',
    textStyle: {fontFamily: font, fontSize: 31, fontWeight: 'bold', color: '#000'}});
  xAxes.push({type: 'value', gridIndex: i, min: xTicks[0], max: xTicks[xTicks.length-1], interval: 25,
    axisLine: {show: true, onZero: false, lineStyle: {color: '#666', width: 1}},
    axisTick: {show: true, inside: true, length: 9, lineStyle: {color: '#666'}},
    axisLabel: {fontFamily: font, fontSize: 18.5, color: '#000', margin: 7,
      formatter: v => String(v)},
    splitLine: {show: false}});
  yAxes.push({type: 'value', gridIndex: i, min: -3.5, max: 1.5, interval: 0.5,
    axisLine: {show: true, onZero: false, lineStyle: {color: '#666', width: 1}},
    axisTick: {show: false},
    axisLabel: {fontFamily: font, fontSize: 18.5, color: '#000', margin: 6,
      formatter: v => (yTickLabels.indexOf(v) >= 0 ? String(v) : '')},
    splitLine: {show: false}});
  const mk = (name, data, w, z) => ({
    name, type: 'line', xAxisIndex: i, yAxisIndex: i, data, showSymbol: false, symbol: 'none',
    smooth: false, animation: false, z,
    lineStyle: {color: colors[name], width: w, join: 'round', cap: 'round'},
    itemStyle: {color: colors[name]}, emphasis: {disabled: true}
  });
  series.push(mk('Control', p.c, 2, 2));
  series.push(mk('Hindcast', p.h, 2, 3));
  series.push(mk('Control', p.tc, 4.5, 4));
  series.push(mk('Hindcast', p.th, 3.5, 5));
  series.push(mk('B1', p.b1, 2, 2));
  series.push(mk('A1b', p.a1b, 2, 3));
  series.push(mk('A2', p.a2, 2, 4));
  series.push(mk('B1', p.tb1, 4.5, 5));
  series.push(mk('A1b', p.ta1b, 4.5, 6));
  series.push(mk('A2', p.ta2, 4.5, 7));
});

const chart = echarts.init(document.getElementById('chart'), null, {renderer: 'canvas'});
chart.setOption({
  animation: false,
  backgroundColor: '#fff',
  title: titles,
  grid: grids,
  xAxis: xAxes,
  yAxis: yAxes,
  legend: {
    data: seriesNames, orient: 'vertical', left: 997, top: 272,
    itemWidth: 59, itemHeight: 13, itemGap: 9, icon: 'rect', selectedMode: false,
    padding: [6, 12, 4, 10], borderColor: '#777', borderWidth: 1, backgroundColor: '#fff',
    textStyle: {fontFamily: font, fontSize: 38.5, color: '#000', lineHeight: 38}
  },
  series
});
</script>
</body>
</html>
